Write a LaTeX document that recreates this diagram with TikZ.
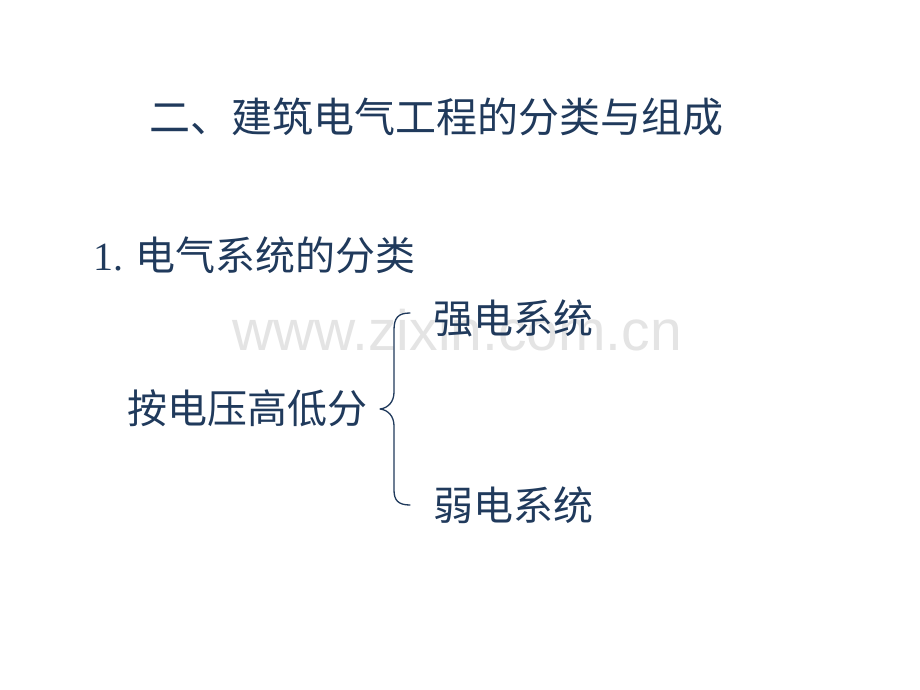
\documentclass[tikz,border=0pt]{standalone}
\usepackage{fontspec}
\setmainfont{Liberation Serif}
\newfontfamily\cjk{Noto Sans CJK SC}
\newfontfamily\wmfont{Liberation Sans}
\definecolor{navy}{RGB}{32,58,92}
\definecolor{wm}{RGB}{228,228,228}
\begin{document}
\begin{tikzpicture}[x=1pt,y=-1pt,
  txt/.style={inner sep=0pt,anchor=west,text=navy,font=\cjk\fontsize{40}{48}\selectfont},
  ttl/.style={inner sep=0pt,anchor=west,text=navy,font=\cjk\fontsize{41}{50}\selectfont},
  bracestyle/.style={draw=navy,line width=1.3pt,line cap=round,line join=round}]
\useasboundingbox[fill=white] (0,0) rectangle (920,690);
\node[inner sep=0pt,anchor=west,text=wm,font=\wmfont\fontsize{57}{64}\selectfont] (wmark) at (232,330) {www.zixin.com.cn};
\node[ttl] (title) at (149,117) {二、建筑电气工程的分类与组成};
\node[txt] (sec) at (93,255) {{\fontsize{40}{48}\selectfont\rmfamily 1.} 电气系统的分类};
\node[txt] (strong) at (433,318) {强电系统};
\node[txt] (weak) at (433,505) {弱电系统};
\node[txt] (bylevel) at (127,408) {按电压高低分};
\coordinate (btop) at (410,313);
\coordinate (bbot) at (410,505);
\coordinate (btip) at (380,409);
\draw[bracestyle] (btop) .. controls (398,313) and (394,318) .. (394,330)
  -- (394,392) .. controls (394,402) and (388,408) .. (btip)
  .. controls (388,410) and (394,416) .. (394,426)
  -- (394,490) .. controls (394,500) and (398,505) .. (bbot);
\end{tikzpicture}
\end{document}
